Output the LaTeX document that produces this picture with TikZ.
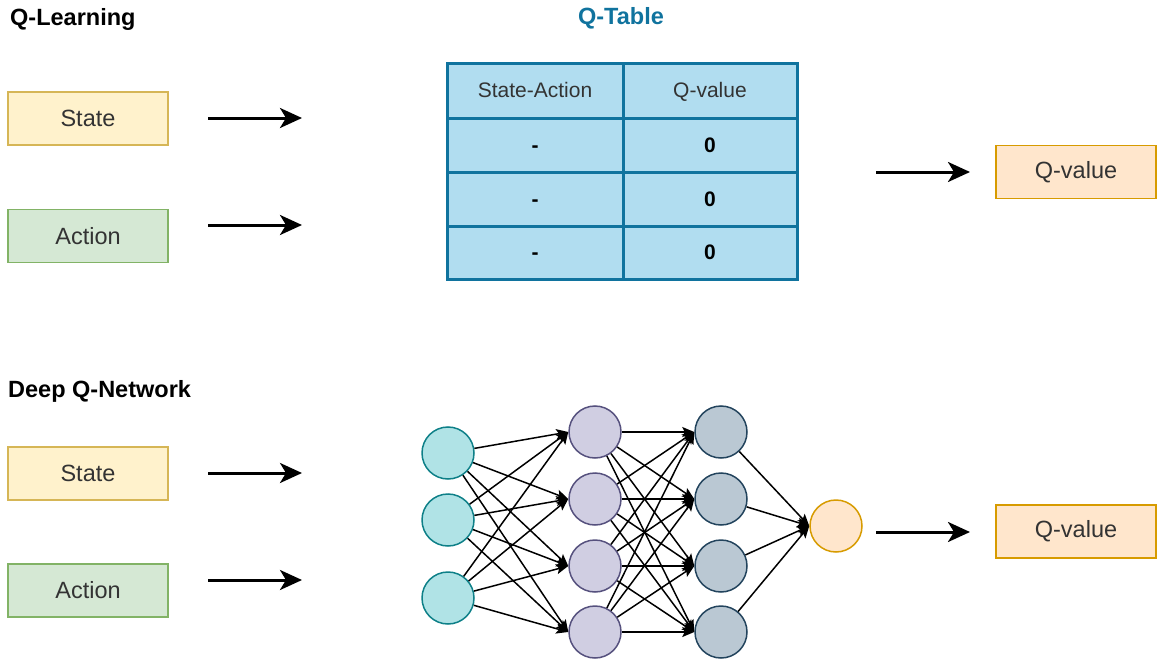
\documentclass[tikz,border=0pt]{standalone}
\usepackage{fontspec}
\setmainfont{Liberation Sans}
\usetikzlibrary{arrows.meta,positioning}

\definecolor{stateFill}{HTML}{FFF2CC}\definecolor{stateLine}{HTML}{D6B656}
\definecolor{actFill}{HTML}{D5E8D4}\definecolor{actLine}{HTML}{82B366}
\definecolor{qvFill}{HTML}{FFE6CC}\definecolor{qvLine}{HTML}{D79B00}
\definecolor{tabFill}{HTML}{B1DDF0}\definecolor{tabLine}{HTML}{10739E}
\definecolor{inFill}{HTML}{B0E3E6}\definecolor{inLine}{HTML}{0E8088}
\definecolor{hidFill}{HTML}{D0CEE2}\definecolor{hidLine}{HTML}{56517E}
\definecolor{hidbFill}{HTML}{BAC8D3}\definecolor{hidbLine}{HTML}{23445D}
\definecolor{txt}{HTML}{333333}

\tikzset{
  box/.style={rectangle, minimum width=160pt, minimum height=53pt, inner sep=0pt,
    line width=1.3pt, text=txt, font=\fontsize{23.5}{28}\selectfont},
  statebox/.style={box, fill=stateFill, draw=stateLine},
  actbox/.style={box, fill=actFill, draw=actLine},
  qvbox/.style={box, fill=qvFill, draw=qvLine},
  title/.style={anchor=west, inner sep=0pt, font=\fontsize{23.5}{28}\selectfont\bfseries},
  cell/.style={rectangle, draw=tabLine, fill=tabFill, line width=3pt, inner sep=0pt,
    minimum height=54pt, text height=15pt, text depth=1pt,
    font=\fontsize{21}{25}\selectfont},
  cola/.style={cell, minimum width=176pt},
  colb/.style={cell, minimum width=174pt},
  val/.style={font=\fontsize{21}{25}\selectfont\bfseries},
  flow/.style={line width=3pt, -{Stealth[length=22pt, width=20pt, inset=6pt]}},
  neuron/.style={circle, minimum size=52pt, inner sep=0pt, line width=1.5pt},
  inn/.style={neuron, fill=inFill, draw=inLine},
  hida/.style={neuron, fill=hidFill, draw=hidLine},
  hidb/.style={neuron, fill=hidbFill, draw=hidbLine},
  outn/.style={neuron, fill=qvFill, draw=qvLine},
  link/.style={line width=1.5pt, -{Stealth[length=12pt, width=10pt, inset=2.5pt]}}
}

\begin{document}
\begin{tikzpicture}[x=1pt, y=-1pt]
\useasboundingbox (0,0) rectangle (1160,661);

% ---------- Q-Learning ----------
\node[title] (qlt) at (10,19) {Q-Learning};
\node[title, anchor=center, text=tabLine] (qtt) at (621,18) {Q-Table};

\node[statebox] (s1) at (88,118.5) {State};
\node[actbox] (a1) at (88,236) {Action};

\coordinate (s1a) at (208,118);
\coordinate (s1b) at (302,118);
\coordinate (a1a) at (208,225);
\coordinate (a1b) at (302,225);
\draw[flow] (s1a) -- (s1b);
\draw[flow] (a1a) -- (a1b);

% Q-table cells
\node[cola, text=txt] (c00) at (535,91) {State-Action};
\node[colb, text=txt] (c01) at (710,91) {Q-value};
\node[cola, val] (c10) at (535,145) {-};
\node[colb, val] (c11) at (710,145) {0};
\node[cola, val] (c20) at (535,199) {-};
\node[colb, val] (c21) at (710,199) {0};
\node[cola, val, minimum height=53pt] (c30) at (535,252.5) {-};
\node[colb, val, minimum height=53pt] (c31) at (710,252.5) {0};

\coordinate (t1a) at (876,172);
\coordinate (t1b) at (970,172);
\draw[flow] (t1a) -- (t1b);
\node[qvbox] (q1) at (1076,172) {Q-value};

% ---------- Deep Q-Network ----------
\node[title] (dqt) at (8,391) {Deep Q-Network};

\node[statebox] (s2) at (88,473.5) {State};
\node[actbox] (a2) at (88,590.5) {Action};

\coordinate (s2a) at (208,473);
\coordinate (s2b) at (302,473);
\coordinate (a2a) at (208,580);
\coordinate (a2b) at (302,580);
\draw[flow] (s2a) -- (s2b);
\draw[flow] (a2a) -- (a2b);

% layers
\node[inn] (i1) at (448,453) {};
\node[inn] (i2) at (448,520) {};
\node[inn] (i3) at (448,598) {};

\foreach \k/\y in {1/432,2/499,3/566,4/632}{
  \node[hida] (h\k) at (595,\y) {};
  \node[hidb] (g\k) at (721,\y) {};
}
\node[outn] (o) at (836,526) {};

% connections
\foreach \a in {1,2,3}{
  \foreach \b in {1,2,3,4}{
    \draw[link] (i\a) -- (h\b.west);
  }
}
\foreach \a in {1,2,3,4}{
  \foreach \b in {1,2,3,4}{
    \draw[link] (h\a) -- (g\b.west);
  }
  \draw[link] (g\a) -- (o.west);
}

\coordinate (t2a) at (876,532);
\coordinate (t2b) at (970,532);
\draw[flow] (t2a) -- (t2b);
\node[qvbox] (q2) at (1076,531.5) {Q-value};
\end{tikzpicture}
\end{document}
